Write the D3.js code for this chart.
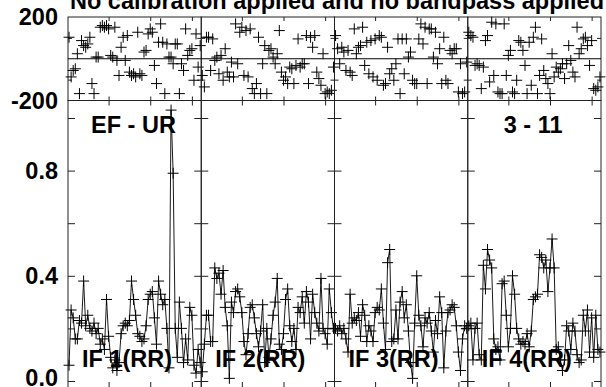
<!DOCTYPE html>
<html>
<head>
<meta charset="utf-8">
<script src="https://cdn.jsdelivr.net/npm/d3@7"></script>
<style>
  body { margin: 0; background: #fff; }
  svg { display: block; }
  text { font-family: "Liberation Sans", Arial, sans-serif; font-weight: bold; fill: #000; }
</style>
</head>
<body>
<svg id="chart" width="606" height="387"></svg>
<script>

// ---- data ----
const title = 'No calibration applied and no bandpass applied';
const baselineLabel = 'EF - UR';
const timeLabel = '3 - 11';
const ifLabels = ['IF 1(RR)', 'IF 2(RR)', 'IF 3(RR)', 'IF 4(RR)'];

const phaseTicks = [-200, 200];
const ampTicks = [0.0, 0.4, 0.8];
const chanTicks = [20, 40, 60];

const ampIF1 = [0.06, 0.27, 0.24, 0.16, 0.16, 0.23, 0.22, 0.38, 0.21, 0.25, 0.20, 0.19, 0.22, 0.18, 0.20, 0.14,
                0.16, 0.12, 0.31, 0.17, 0.09, 0.05, 0.08, 0.04, 0.07, 0.18, 0.21, 0.22, 0.21, 0.23, 0.38, 0.31,
                0.25, 0.18, 0.17, 0.15, 0.16, 0.21, 0.31, 0.33, 0.34, 0.24, 0.14, 0.38, 0.33, 0.29, 0.31, 0.20,
                0.05, 1.03, 0.79, 0.20, 0.09, 0.30, 0.20, 0.07, 0.16, 0.08, 0.28, 0.25, 0.06, 0.03, 0.12, 0.07];
const ampIF2 = [0.035, 0.14, 0.25, 0.25, 0.15, 0.15, 0.43, 0.39, 0.41, 0.33, 0.42, 0.28, 0.21, 0.01, 0.30, 0.26,
                0.34, 0.35, 0.32, 0.26, 0.15, 0.10, 0.18, 0.28, 0.29, 0.24, 0.18, 0.13, 0.19, 0.29, 0.07, 0.20,
                0.09, 0.16, 0.25, 0.30, 0.39, 0.14, 0.12, 0.18, 0.31, 0.35, 0.21, 0.15, 0.20, 0.12, 0.28, 0.26,
                0.32, 0.22, 0.34, 0.30, 0.16, 0.33, 0.26, 0.22, 0.19, 0.39, 0.20, 0.18, 0.14, 0.35, 0.26, 0.20];
const ampIF3 = [0.20, 0.19, 0.21, 0.18, 0.20, 0.16, 0.11, 0.33, 0.22, 0.24, 0.23, 0.26, 0.17, 0.29, 0.25, 0.15,
                0.21, 0.19, 0.15, 0.26, 0.28, 0.27, 0.35, 0.22, 0.12, 0.45, 0.50, 0.15, 0.16, 0.27, 0.16, 0.30,
                0.34, 0.24, 0.29, 0.19, 0.07, 0.01, 0.22, 0.40, 0.25, 0.21, 0.13, 0.24, 0.22, 0.26, 0.19, 0.11,
                0.23, 0.18, 0.32, 0.26, 0.05, 0.19, 0.26, 0.27, 0.29, 0.28, 0.21, 0.11, 0.04, 0.16, 0.21, 0.20];
const ampIF4 = [0.21, 0.22, 0.08, 0.20, 0.22, 0.10, 0.08, 0.44, 0.35, 0.50, 0.46, 0.43, 0.16, 0.12, 0.13, 0.08,
                0.37, 0.38, 0.25, 0.13, 0.20, 0.40, 0.33, 0.20, 0.16, 0.14, 0.15, 0.14, 0.18, 0.13, 0.19, 0.31,
                0.32, 0.33, 0.48, 0.47, 0.43, 0.46, 0.34, 0.43, 0.54, 0.43, 0.12, 0.13, 0.08, 0.04, 0.08, 0.21,
                0.19, 0.12, 0.22, 0.19, 0.10, 0.07, 0.08, 0.25, 0.19, 0.27, 0.11, 0.24, 0.09, 0.25, 0.12, 0.11];

const phaseIF1 = [103, -87, -56, -48, 24, -167, 87, 63, 55, 71, 103, -119, -167, 8, 8, 151,
                  159, 151, 159, 143, 16, 8, 151, -8, -80, 55, 103, -8, 111, -64, -80, -72,
                  -87, 127, -72, -80, 32, 40, 119, 143, 127, -32, -119, 79, 167, 79, -167, 71,
                  8, 8, -24, 71, 71, -167, -24, -56, 143, 16, 40, 48, -103, 119, -40, 63];
const phaseIF2 = [-80, -135, 103, 103, -56, 95, -8, 8, -72, 16, -103, 48, -64, -87, -16, -87,
                  167, -24, 127, 151, -80, 135, -87, 143, -143, -167, -119, 103, -167, -24, 63, -167,
                  40, 48, 8, -24, 24, 135, -64, -103, -87, -119, -40, -48, -119, -32, 95, -40,
                  -24, -24, 111, -119, 103, 55, 111, -64, -95, -127, 24, -167, -159, -167, -151, -40];
const phaseIF3 = [111, 48, -24, 55, 32, -56, 40, -64, -80, 143, 24, 55, 63, 151, -32, 79,
                  -72, 87, -87, 95, -103, 111, 103, -127, -119, 55, -72, -48, -103, -24, 95, -167,
                  95, -72, 95, 8, 32, -103, -119, -119, 95, 167, 71, 151, -119, 143, 143, 8,
                  127, -24, 48, -119, 103, -103, -119, 40, 24, 48, 48, -159, -24, -167, -159, -16];
const phaseIF4 = [127, 111, 103, -32, -24, -32, -143, -40, 87, 111, -111, 175, -80, 167, -159, -167,
                  -167, 167, -80, 16, 40, -159, -167, -103, 87, 79, 40, -32, -167, 79, -127, 103,
                  151, -167, -80, 95, -56, -95, -119, -167, 24, -87, -40, -64, -48, -24, -95, -24,
                  63, -8, -64, -87, 151, 24, 48, 95, 103, 63, -32, 87, -143, -151, -135, -87];

const amps = [ampIF1, ampIF2, ampIF3, ampIF4];
const phases = [phaseIF1, phaseIF2, phaseIF3, phaseIF4];

// ---- layout ----
const plotLeft = 68, plotRight = 601;
const panelW = (plotRight - plotLeft) / 4;
const phTop = 17, phBot = 100.5;
const amTop = 100.5, amBot = 389;
const crossHalf = 5.5;
const fontSize = 23.5;

const svg = d3.select('#chart');

const yPhase = d3.scaleLinear().domain([-200, 200]).range([phBot, phTop]);
const yAmp = d3.scaleLinear().domain([0, 1]).range([381, 118]);

function crossPath (x, y) {
    return 'M' + (x - crossHalf) + ',' + y + 'H' + (x + crossHalf) +
           'M' + x + ',' + (y - crossHalf) + 'V' + (y + crossHalf);
}

for (var i = 0; i < 4; i++) {
    var x0 = plotLeft + i * panelW;
    var x = d3.scaleLinear().domain([0.5, 64.5]).range([x0, x0 + panelW]);
    var g = svg.append('g').attr('id', 'panel' + i);

    // inward ticks for both boxes
    g.append('g').attr('transform', 'translate(0,' + phTop + ')')
        .call(d3.axisBottom(x).tickValues(chanTicks).tickSizeInner(4).tickSizeOuter(0).tickFormat(''));
    g.append('g').attr('transform', 'translate(0,' + phBot + ')')
        .call(d3.axisTop(x).tickValues(chanTicks).tickSizeInner(4).tickSizeOuter(0).tickFormat(''));
    g.append('g').attr('transform', 'translate(0,' + amTop + ')')
        .call(d3.axisBottom(x).tickValues(chanTicks).tickSizeInner(5).tickSizeOuter(0).tickFormat(''));
    g.append('g').attr('transform', 'translate(0,' + amBot + ')')
        .call(d3.axisTop(x).tickValues(chanTicks).tickSizeInner(7).tickSizeOuter(0).tickFormat(''));

    g.append('g').attr('transform', 'translate(' + x0 + ',0)')
        .call(d3.axisRight(yAmp).tickValues([0, 0.2, 0.4, 0.6, 0.8, 1.0]).tickSizeInner(7).tickSizeOuter(0).tickFormat(''));
    g.append('g').attr('transform', 'translate(' + (x0 + panelW) + ',0)')
        .call(d3.axisLeft(yAmp).tickValues([0, 0.2, 0.4, 0.6, 0.8, 1.0]).tickSizeInner(7).tickSizeOuter(0).tickFormat(''));
    g.append('g').attr('transform', 'translate(' + x0 + ',0)')
        .call(d3.axisRight(yPhase).tickValues([-100, 100]).tickSizeInner(4).tickSizeOuter(0).tickFormat(''));
    g.append('g').attr('transform', 'translate(' + (x0 + panelW) + ',0)')
        .call(d3.axisLeft(yPhase).tickValues([-100, 100]).tickSizeInner(4).tickSizeOuter(0).tickFormat(''));

    g.selectAll('.domain').remove();
    g.selectAll('.tick line').attr('stroke', '#222');

    // frames
    g.append('rect').attr('x', x0).attr('y', phTop).attr('width', panelW).attr('height', phBot - phTop)
        .attr('fill', 'none').attr('stroke', '#222');
    g.append('rect').attr('x', x0).attr('y', amTop).attr('width', panelW).attr('height', amBot - amTop)
        .attr('fill', 'none').attr('stroke', '#222');
    g.append('line').attr('x1', x0).attr('x2', x0 + panelW)
        .attr('y1', yPhase(0)).attr('y2', yPhase(0)).attr('stroke', '#000');

    // phase crosses
    g.append('path')
        .attr('d', phases[i].map(function (p, k) { return crossPath(x(k + 1), yPhase(p)); }).join(''))
        .attr('fill', 'none').attr('stroke', '#000').attr('stroke-width', 1);

    // amplitude line + crosses
    var line = d3.line().x(function (d, k) { return x(k + 1); }).y(function (d) { return yAmp(d); });
    g.append('path').datum(amps[i]).attr('d', line)
        .attr('fill', 'none').attr('stroke', '#1a1a1a').attr('stroke-width', 1);
    g.append('path')
        .attr('d', amps[i].map(function (a, k) { return crossPath(x(k + 1), yAmp(a)); }).join(''))
        .attr('fill', 'none').attr('stroke', '#000').attr('stroke-width', 1);

    g.append('text').attr('x', x0 + 14).attr('y', 367)
        .style('font-size', fontSize + 'px').text(ifLabels[i]);
}

// labels
svg.append('text').attr('x', 70).attr('y', 9).style('font-size', fontSize + 'px').text(title);
svg.append('text').attr('x', plotLeft + 23).attr('y', 133).style('font-size', fontSize + 'px').text(baselineLabel);
svg.append('text').attr('x', plotLeft + 3 * panelW + 36).attr('y', 133).style('font-size', fontSize + 'px').text(timeLabel);

svg.selectAll('.phLab').data(phaseTicks).enter().append('text')
    .attr('x', 58).attr('y', function (d) { return yPhase(d) + 8; })
    .attr('text-anchor', 'end').style('font-size', fontSize + 'px')
    .text(function (d) { return d; });
svg.selectAll('.amLab').data(ampTicks).enter().append('text')
    .attr('x', 58).attr('y', function (d) { return Math.min(yAmp(d) + 8, 386); })
    .attr('text-anchor', 'end').style('font-size', fontSize + 'px')
    .text(function (d) { return d.toFixed(1); });

</script>
</body>
</html>
